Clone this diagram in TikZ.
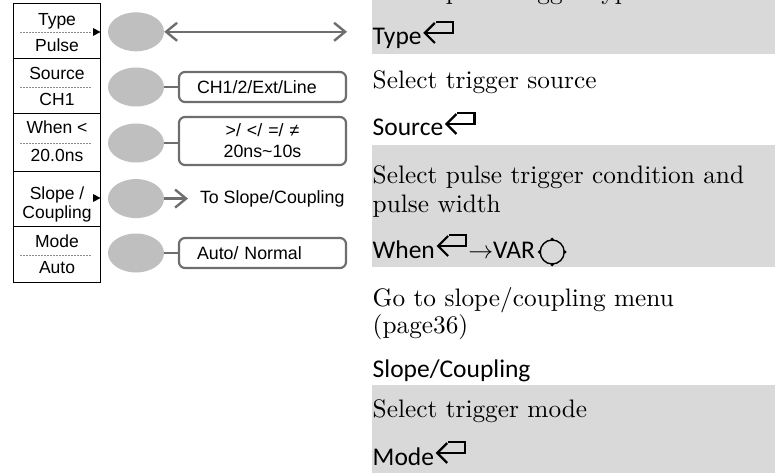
\documentclass[tikz,border=0pt]{standalone}
\usepackage{fontspec}
\newfontfamily\arialf{Liberation Sans}
\newfontfamily\calif{Carlito}
\newfontfamily\lmtenf{lmroman10-regular.otf}
\usetikzlibrary{arrows.meta,shapes.geometric}
\definecolor{knobgray}{HTML}{BFBFBF}
\definecolor{linegray}{HTML}{6E6E6E}
\definecolor{bandgray}{HTML}{D9D9D9}
\definecolor{dashgray}{HTML}{8C8C8C}
\newcommand\retmark[1]{%
  \draw[retline] (#1.base east) ++(3,-12) -- ++(28,0) -- ++(0,-11) -- ++(-17,0);
  \draw[retline] (#1.base east) ++(13,-22) -- ++(-10,10) -- ++(10,10);}
\begin{document}
\begin{tikzpicture}[x=1pt,y=-1pt,
  knob/.style={ellipse, fill=knobgray, minimum width=56pt, minimum height=39pt, inner sep=0pt},
  optbox/.style={draw=linegray, line width=2.2pt, rounded corners=6pt, text width=131pt, inner xsep=18pt, inner ysep=0pt, font=\arialf\fontsize{17.8}{21}\selectfont},
  conn/.style={draw=linegray, line width=2.4pt},
  lbl/.style={anchor=base, inner sep=0pt, font=\arialf\fontsize{17.5}{21}\selectfont},
  serif/.style={anchor=base west, inner sep=0pt, font=\lmtenf\fontsize{25.3}{28}\selectfont},
  sansl/.style={anchor=base west, inner sep=0pt, font=\calif\fontsize{25.5}{28}\selectfont},
  retline/.style={line width=2.2pt},
  dotsep/.style={draw=dashgray, line width=0.8pt, dash pattern=on 1.5pt off 1.5pt}
]
\useasboundingbox (0,0) rectangle (775,473);
\begin{scope}
\clip (0,0) rectangle (775,473);
% gray bands
\fill[bandgray] (372,0) rectangle (775,54);
\fill[bandgray] (372,145) rectangle (775,267);
\fill[bandgray] (372,385) rectangle (775,473);
% right column text
\node[serif] (d1) at (372.5,-0.5) {Select pulse trigger type};
\node[sansl] (k1) at (372.5,45) {Type}; \retmark{k1}
\node[serif] (d2) at (372.5,89) {Select trigger source};
\node[sansl] (k2) at (372.5,136) {Source}; \retmark{k2}
\node[serif] (d3a) at (372.5,183) {Select pulse trigger condition and};
\node[serif] (d3b) at (372.5,212) {pulse width};
\node[sansl] (k3) at (372.5,258) {When}; \retmark{k3}
\node[sansl] (k3v) at ([xshift=33pt]k3.base east) {$\rightarrow$VAR};
\node[draw, circle, line width=1.4pt, minimum size=24pt, inner sep=0pt] (knobsym) at ([xshift=17pt, yshift=6pt]k3v.base east) {};
\fill (knobsym.north) circle (1.8);
\fill (knobsym.south) circle (1.8);
\fill (knobsym.east) circle (1.8);
\fill (knobsym.west) circle (1.8);
\node[serif] (d4a) at (372.5,306) {Go to slope/coupling menu};
\node[serif] (d4b) at (372.5,333) {(page36)};
\node[sansl] (k4) at (372.5,377) {Slope/Coupling};
\node[serif] (d5) at (372.5,417) {Select trigger mode};
\node[sansl] (k5) at (372.5,465) {Mode}; \retmark{k5}
\end{scope}
% left menu
\draw[line width=1pt] (13.3,4) rectangle (100.7,282);
\foreach \yy in {59,113.5,171,226} \draw[line width=1pt] (13.3,\yy) -- (100.7,\yy);
\foreach \yy in {32,87,143,255} \draw[dotsep] (20,\yy) -- (92,\yy);
\fill (93,28) -- (100.5,32) -- (93,36) -- cycle;
\fill (93,194) -- (100.5,198) -- (93,202) -- cycle;
\node[lbl] (m1a) at (57,26) {Type};
\node[lbl] (m1b) at (57,52) {Pulse};
\node[lbl] (m2a) at (57,80) {Source};
\node[lbl] (m2b) at (57,106) {CH1};
\node[lbl] (m3a) at (57,134) {When <};
\node[lbl] (m3b) at (57,161) {20.0ns};
\node[lbl] (m4a) at (57,199) {Slope /};
\node[lbl] (m4b) at (57,218) {Coupling};
\node[lbl] (m5a) at (57,247) {Mode};
\node[lbl] (m5b) at (57,273) {Auto};
% knobs
\node[knob] (e1) at (136,31.8) {};
\node[knob] (e2) at (136,87) {};
\node[knob] (e3) at (136,143) {};
\node[knob] (e4) at (136,198.6) {};
\node[knob] (e5) at (136,253) {};
% option boxes
\node[optbox, align=left, minimum height=30pt] (b1) at (262.5,87) {CH1/2/Ext/Line};
\node[optbox, align=center, minimum height=48pt] (b2) at (262.5,141) {>/ </ =/ ≠\\20ns\textasciitilde10s};
\node[optbox, align=left, minimum height=30pt] (b3) at (262.5,253) {Auto/ Normal};
\node[lbl, anchor=west, outer xsep=12pt, font=\arialf\fontsize{17.8}{21}\selectfont] (t4) at (188,198.6) {To Slope/Coupling};
% connectors
\coordinate (r1end) at (347,31.8);
\draw[conn, {Straight Barb[length=11pt,width=18pt]}-{Straight Barb[length=11pt,width=18pt]}] (e1) -- (r1end);
\draw[conn] (e2) -- (b1);
\draw[conn] (e3.east) -- (e3.east -| b2.west);
\draw[conn, -{Straight Barb[length=11pt,width=18pt]}] (e4) -- (t4.west);
\draw[conn] (e5) -- (b3);
\end{tikzpicture}
\end{document}
